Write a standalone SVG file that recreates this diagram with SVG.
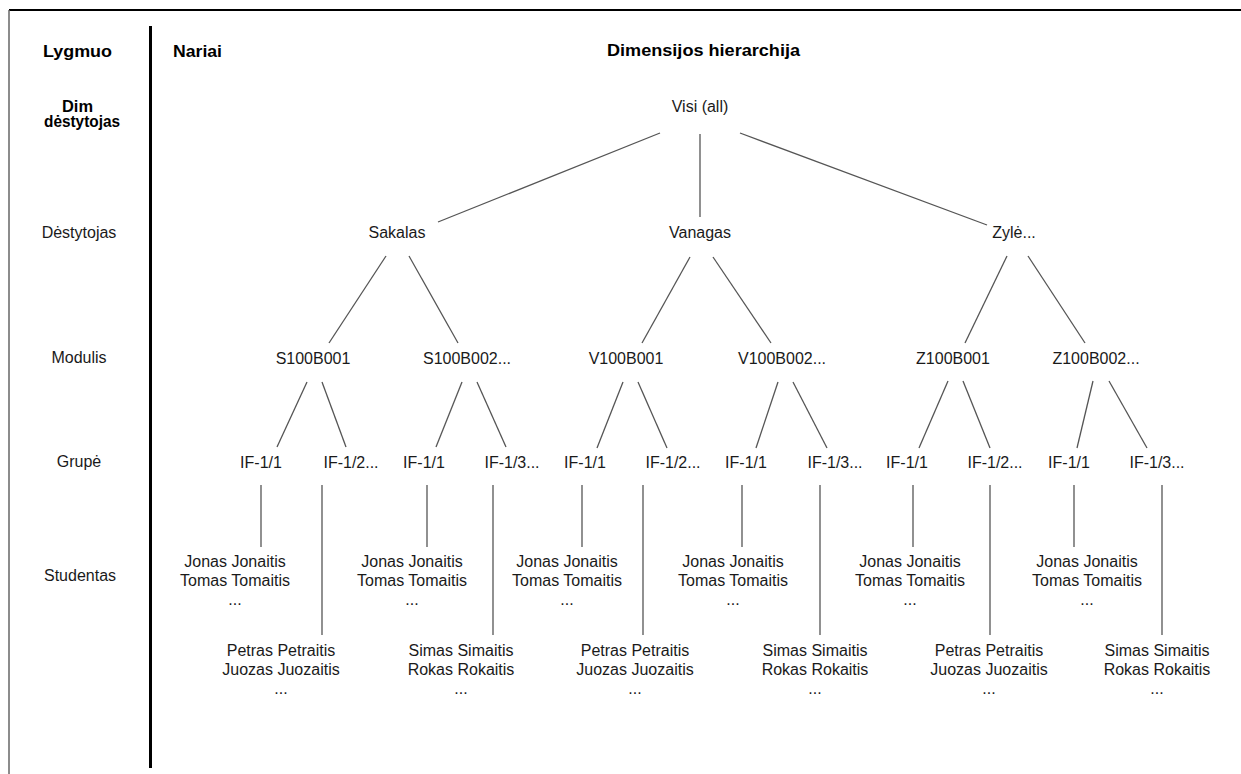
<svg xmlns="http://www.w3.org/2000/svg" width="1241" height="774" viewBox="0 0 1241 774">
<style>
text{font-family:"Liberation Sans",Arial,sans-serif;fill:#1a1a1a}
.n{font-size:16px;text-anchor:middle}
.b{font-size:16px;font-weight:bold;fill:#000}
.c line{stroke:#555;stroke-width:1.3}
</style>
<rect width="1241" height="774" fill="#fff"/>
<g id="frame">
<line x1="9" y1="10" x2="1241" y2="10" stroke="#000" stroke-width="2"/>
<line x1="9" y1="10" x2="9" y2="774" stroke="#666" stroke-width="1.5"/>
<line x1="150.5" y1="26" x2="150.5" y2="768" stroke="#000" stroke-width="3"/>
</g>
<g id="headers">
<text class="b" x="43" y="57" textLength="69" lengthAdjust="spacingAndGlyphs">Lygmuo</text>
<text class="b" x="173" y="57" textLength="49" lengthAdjust="spacingAndGlyphs">Nariai</text>
<text class="b" x="607" y="56" textLength="193" lengthAdjust="spacingAndGlyphs">Dimensijos hierarchija</text>
</g>
<g id="levels">
<text class="b" x="62" y="112" textLength="31" lengthAdjust="spacingAndGlyphs">Dim</text>
<text class="b" x="44" y="127" textLength="76" lengthAdjust="spacingAndGlyphs">dėstytojas</text>
<text class="n" x="79" y="238">Dėstytojas</text>
<text class="n" x="79" y="363">Modulis</text>
<text class="n" x="79" y="467">Grupė</text>
<text class="n" x="80" y="581">Studentas</text>
</g>
<g id="connectors" class="c">
<line x1="660" y1="133" x2="438" y2="222"/>
<line x1="700" y1="134" x2="700" y2="217"/>
<line x1="740" y1="133" x2="987" y2="225"/>
<line x1="386" y1="256" x2="329" y2="343"/>
<line x1="409" y1="256" x2="458" y2="343"/>
<line x1="690" y1="257" x2="642" y2="343"/>
<line x1="713" y1="257" x2="771" y2="343"/>
<line x1="1007" y1="256" x2="965" y2="343"/>
<line x1="1028" y1="256" x2="1085" y2="343"/>
<line x1="307" y1="382" x2="277" y2="447"/>
<line x1="322" y1="382" x2="346" y2="447"/>
<line x1="462" y1="382" x2="436" y2="447"/>
<line x1="477" y1="382" x2="506" y2="447"/>
<line x1="623" y1="382" x2="597" y2="448"/>
<line x1="638" y1="382" x2="667" y2="448"/>
<line x1="778" y1="382" x2="756" y2="448"/>
<line x1="793" y1="382" x2="827" y2="448"/>
<line x1="948" y1="381" x2="919" y2="448"/>
<line x1="963" y1="381" x2="990" y2="448"/>
<line x1="1093" y1="381" x2="1077" y2="448"/>
<line x1="1109" y1="381" x2="1147" y2="448"/>
<line x1="261" y1="485" x2="261" y2="547"/>
<line x1="322" y1="485" x2="322" y2="635"/>
<line x1="427" y1="485" x2="427" y2="547"/>
<line x1="493" y1="485" x2="493" y2="635"/>
<line x1="582" y1="485" x2="582" y2="547"/>
<line x1="643" y1="485" x2="643" y2="635"/>
<line x1="742" y1="485" x2="742" y2="547"/>
<line x1="820" y1="485" x2="820" y2="635"/>
<line x1="913" y1="485" x2="913" y2="547"/>
<line x1="990" y1="485" x2="990" y2="635"/>
<line x1="1074" y1="485" x2="1074" y2="547"/>
<line x1="1162" y1="485" x2="1162" y2="635"/>
</g>
<g id="visi"><text class="n" x="700" y="112">Visi (all)</text></g>
<g id="sakalas"><text class="n" x="397" y="238">Sakalas</text></g>
<g id="vanagas"><text class="n" x="700" y="238">Vanagas</text></g>
<g id="zyle"><text class="n" x="1014" y="238">Zylė...</text></g>
<g id="s100b001"><text class="n" x="313" y="364">S100B001</text></g>
<g id="s100b002"><text class="n" x="467" y="364">S100B002...</text></g>
<g id="v100b001"><text class="n" x="626" y="364">V100B001</text></g>
<g id="v100b002"><text class="n" x="782" y="364">V100B002...</text></g>
<g id="z100b001"><text class="n" x="953" y="364">Z100B001</text></g>
<g id="z100b002"><text class="n" x="1096" y="364">Z100B002...</text></g>
<g id="g-s1-1"><text class="n" x="261" y="468">IF-1/1</text></g>
<g id="g-s1-2"><text class="n" x="351" y="468">IF-1/2...</text></g>
<g id="g-s2-1"><text class="n" x="424" y="468">IF-1/1</text></g>
<g id="g-s2-3"><text class="n" x="512" y="468">IF-1/3...</text></g>
<g id="g-v1-1"><text class="n" x="585" y="468">IF-1/1</text></g>
<g id="g-v1-2"><text class="n" x="673" y="468">IF-1/2...</text></g>
<g id="g-v2-1"><text class="n" x="746" y="468">IF-1/1</text></g>
<g id="g-v2-3"><text class="n" x="835" y="468">IF-1/3...</text></g>
<g id="g-z1-1"><text class="n" x="907" y="468">IF-1/1</text></g>
<g id="g-z1-2"><text class="n" x="995" y="468">IF-1/2...</text></g>
<g id="g-z2-1"><text class="n" x="1069" y="468">IF-1/1</text></g>
<g id="g-z2-3"><text class="n" x="1157" y="468">IF-1/3...</text></g>
<g id="st-s1-1"><text class="n" x="235" y="567">Jonas Jonaitis</text><text class="n" x="235" y="586">Tomas Tomaitis</text><text class="n" x="235" y="605">...</text></g>
<g id="st-s1-2"><text class="n" x="281" y="656">Petras Petraitis</text><text class="n" x="281" y="675">Juozas Juozaitis</text><text class="n" x="281" y="694">...</text></g>
<g id="st-s2-1"><text class="n" x="412" y="567">Jonas Jonaitis</text><text class="n" x="412" y="586">Tomas Tomaitis</text><text class="n" x="412" y="605">...</text></g>
<g id="st-s2-3"><text class="n" x="461" y="656">Simas Simaitis</text><text class="n" x="461" y="675">Rokas Rokaitis</text><text class="n" x="461" y="694">...</text></g>
<g id="st-v1-1"><text class="n" x="567" y="567">Jonas Jonaitis</text><text class="n" x="567" y="586">Tomas Tomaitis</text><text class="n" x="567" y="605">...</text></g>
<g id="st-v1-2"><text class="n" x="635" y="656">Petras Petraitis</text><text class="n" x="635" y="675">Juozas Juozaitis</text><text class="n" x="635" y="694">...</text></g>
<g id="st-v2-1"><text class="n" x="733" y="567">Jonas Jonaitis</text><text class="n" x="733" y="586">Tomas Tomaitis</text><text class="n" x="733" y="605">...</text></g>
<g id="st-v2-3"><text class="n" x="815" y="656">Simas Simaitis</text><text class="n" x="815" y="675">Rokas Rokaitis</text><text class="n" x="815" y="694">...</text></g>
<g id="st-z1-1"><text class="n" x="910" y="567">Jonas Jonaitis</text><text class="n" x="910" y="586">Tomas Tomaitis</text><text class="n" x="910" y="605">...</text></g>
<g id="st-z1-2"><text class="n" x="989" y="656">Petras Petraitis</text><text class="n" x="989" y="675">Juozas Juozaitis</text><text class="n" x="989" y="694">...</text></g>
<g id="st-z2-1"><text class="n" x="1087" y="567">Jonas Jonaitis</text><text class="n" x="1087" y="586">Tomas Tomaitis</text><text class="n" x="1087" y="605">...</text></g>
<g id="st-z2-3"><text class="n" x="1157" y="656">Simas Simaitis</text><text class="n" x="1157" y="675">Rokas Rokaitis</text><text class="n" x="1157" y="694">...</text></g>
</svg>
